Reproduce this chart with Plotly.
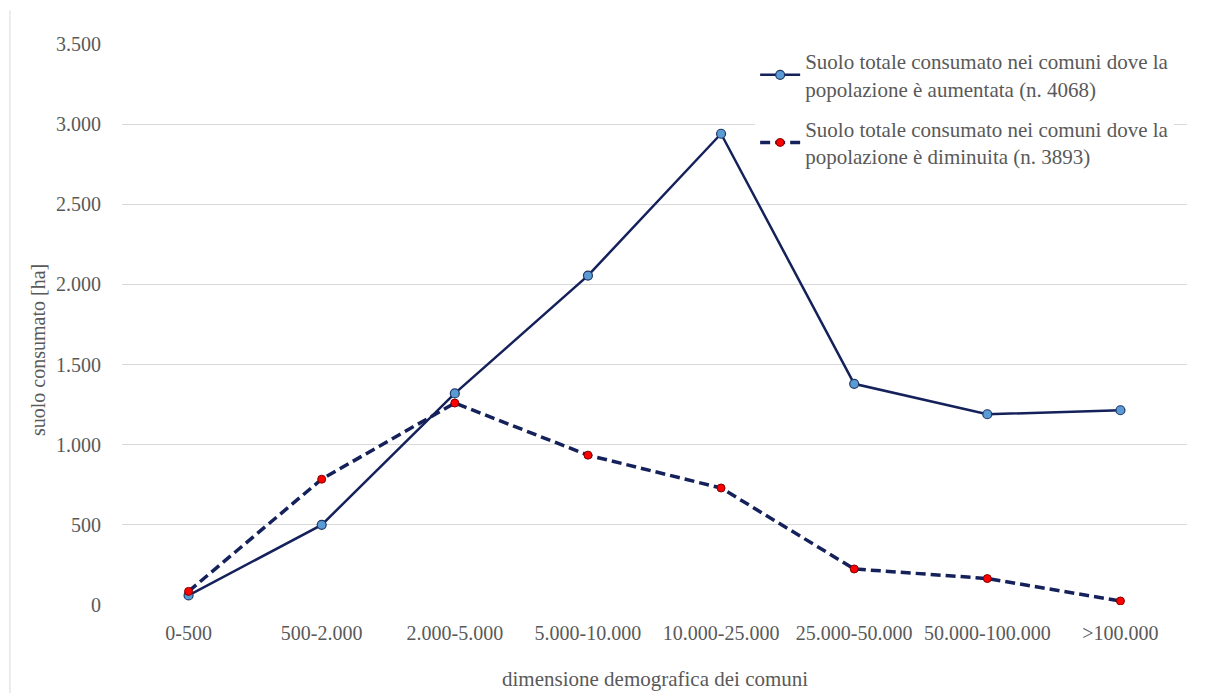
import plotly.graph_objects as go

categories = ["0-500", "500-2.000", "2.000-5.000", "5.000-10.000", "10.000-25.000",
              "25.000-50.000", "50.000-100.000", ">100.000"]
aumentata = [60, 500, 1320, 2055, 2940, 1380, 1190, 1215]
diminuita = [85, 785, 1260, 935, 730, 225, 165, 25]
name_aum = "Suolo totale consumato nei comuni dove la<br>popolazione è aumentata (n. 4068)"
name_dim = "Suolo totale consumato nei comuni dove la<br>popolazione è diminuita (n. 3893)"
x_title = "dimensione demografica dei comuni"
y_title = "suolo consumato [ha]"

LINE = "#14215A"
FONT = "Liberation Serif"
GRAY = "#595959"

fig = go.Figure()
fig.add_trace(go.Scatter(
    x=categories, y=aumentata, name=name_aum, mode="lines+markers", legendgroup="a",
    line=dict(color=LINE, width=2.5),
    marker=dict(size=9, color="#5B9BD5", line=dict(color="#1F3864", width=1.2)),
))
fig.add_trace(go.Scatter(
    x=categories, y=diminuita, name=name_dim, mode="lines+markers", legendgroup="b",
    line=dict(color=LINE, width=3.5, dash="10px,5px"),
    marker=dict(size=8, color="#FF0000", line=dict(color="#7F0000", width=1)),
))

# page body has an 8px margin: plot area lands at x 122-1187, y 44-605 of the window
fig.update_layout(
    width=1203, height=685,
    margin=dict(l=114, r=24, t=36, b=88),
    paper_bgcolor="white", plot_bgcolor="white",
    separators=",.",
    font=dict(family=FONT, color=GRAY, size=20),
    showlegend=True,
    legend=dict(
        x=0.5945, y=1.0053, xanchor="left", yanchor="top",
        bgcolor="white", font=dict(family=FONT, size=21, color=GRAY),
        traceorder="grouped", tracegroupgap=10, itemwidth=40,
    ),
    xaxis=dict(
        type="category", range=[-0.5, len(categories) - 0.5],
        showgrid=False, zeroline=False, showline=False,
        ticks="", ticklabelstandoff=14,
        tickfont=dict(family=FONT, size=20, color=GRAY),
    ),
    yaxis=dict(
        range=[0, 3500], dtick=500, tickformat=",d",
        showgrid=True, gridcolor="#D9D9D9", gridwidth=1,
        zeroline=False, showline=False, ticks="", ticklabelstandoff=20,
        tickfont=dict(family=FONT, size=20, color=GRAY),
    ),
    annotations=[
        dict(text=x_title, xref="paper", yref="paper", x=0.5, y=-0.1320,
             xanchor="center", yanchor="middle", showarrow=False,
             font=dict(family=FONT, size=21, color=GRAY)),
        dict(text=y_title, xref="paper", yref="paper", x=-0.0789, y=0.4545,
             xanchor="center", yanchor="middle", showarrow=False, textangle=-90,
             font=dict(family=FONT, size=20, color=GRAY)),
    ],
    shapes=[dict(type="line", xref="paper", yref="paper",
                 x0=-0.1052, x1=-0.1052, y0=-0.157, y1=1.06,
                 line=dict(color="#D9D9D9", width=1))],
)

fig.write_html("out.html")
